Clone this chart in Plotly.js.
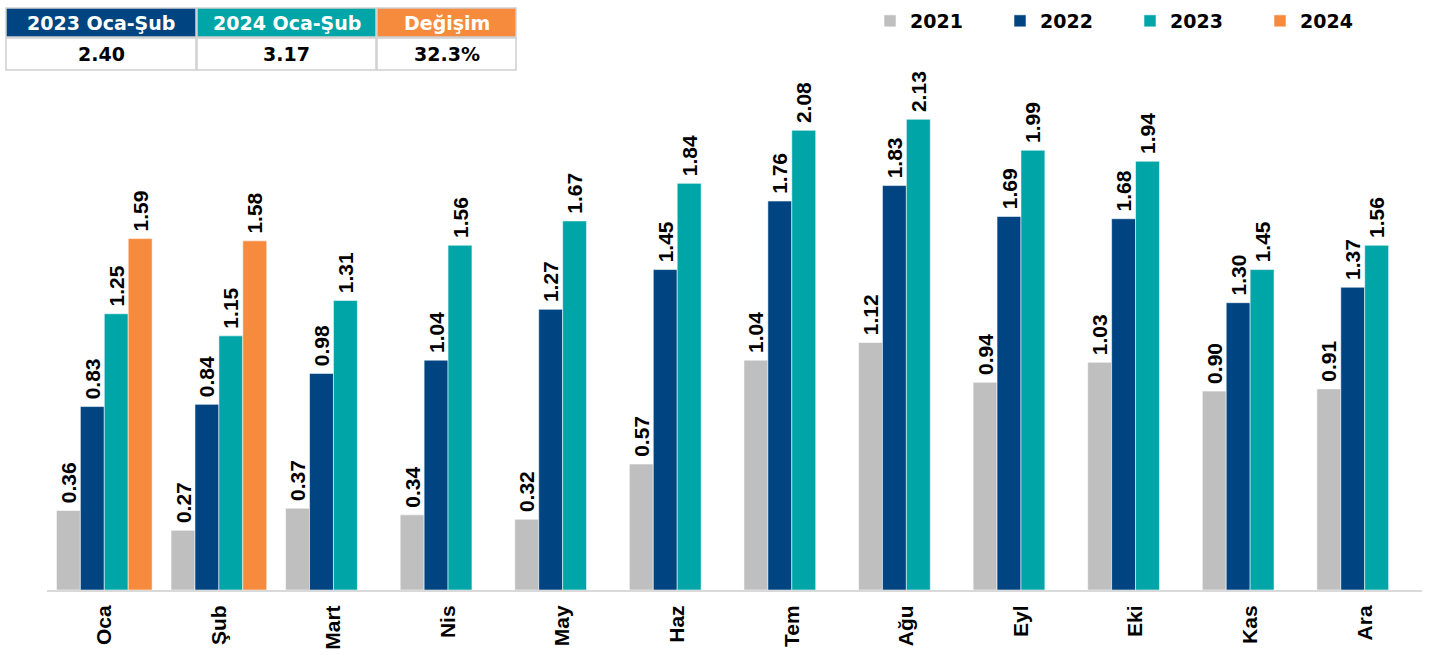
<!DOCTYPE html>
<html>
<head>
<meta charset="utf-8">
<script src="https://cdn.plot.ly/plotly-3.0.1.min.js"></script>
<style>html,body{margin:0;padding:0;background:#fff;}#chart{width:1432px;height:655px;}</style>
</head>
<body>
<div id="chart"></div>
<script>
// ---- data ----
const months = ["Oca","Şub","Mart","Nis","May","Haz","Tem","Ağu","Eyl","Eki","Kas","Ara"];
const seriesNames = ["2021","2022","2023","2024"];
const v2021 = [0.36,0.27,0.37,0.34,0.32,0.57,1.04,1.12,0.94,1.03,0.90,0.91];
const v2022 = [0.83,0.84,0.98,1.04,1.27,1.45,1.76,1.83,1.69,1.68,1.30,1.37];
const v2023 = [1.25,1.15,1.31,1.56,1.67,1.84,2.08,2.13,1.99,1.94,1.45,1.56];
const v2024 = [1.59,1.58,null,null,null,null,null,null,null,null,null,null];
const tableHeaders = ["2023 Oca-Şub","2024 Oca-Şub","Değişim"];
const tableValues = ["2.40","3.17","32.3%"];

// ---- styling ----
const colors = ["#BFBFBF","#004481","#00A5A8","#F68B3D"];
const W = 1432, H = 655;
const ml = 47, mr = 10, mt = 15, mb = 65;
const pw = W - ml - mr, ph = H - mt - mb;
const yMax = ph / 221;
const px = x => (x - ml) / pw;
const py = y => (H - mb - y) / ph;

const labelFont = {family: "Liberation Sans, Arial, sans-serif", size: 21, color: "#000", weight: "bold"};
const values = [v2021, v2022, v2023, v2024];
const traces = values.map((vals, i) => ({
  type: "bar",
  name: seriesNames[i],
  x: months,
  y: vals,
  marker: {color: colors[i], line: {color: "rgba(255,255,255,0.55)", width: 1}},
  texttemplate: "\u2009%{y:.2f}",
  textposition: "outside",
  textangle: -90,
  textfont: labelFont,
  constraintext: "none",
  cliponaxis: false,
  hoverinfo: "x+y+name"
}));

// ---- table (shapes + annotations) ----
const colX = [[6,196],[197,376],[377,516]];
const headY = [8,37], dataY = [38,70];
const headFill = [colors[1], colors[2], colors[3]];
const shapes = [];
const annotations = [];
colX.forEach((c, i) => {
  shapes.push({type:"rect", xref:"paper", yref:"paper", x0:px(c[0]), x1:px(c[1]), y0:py(headY[1]), y1:py(headY[0]),
    fillcolor: headFill[i], line:{color:"#D0D0D0", width:1.5}, layer:"above"});
  shapes.push({type:"rect", xref:"paper", yref:"paper", x0:px(c[0]), x1:px(c[1]), y0:py(dataY[1]), y1:py(dataY[0]),
    fillcolor: "#FFFFFF", line:{color:"#D0D0D0", width:1.5}, layer:"above"});
  annotations.push({xref:"paper", yref:"paper", x:px((c[0]+c[1])/2), y:py((headY[0]+headY[1])/2),
    text: tableHeaders[i], showarrow:false, xanchor:"center", yanchor:"middle",
    font:{family:"DejaVu Sans, sans-serif", size:19, color:"#fff", weight:"bold"}});
  annotations.push({xref:"paper", yref:"paper", x:px((c[0]+c[1])/2), y:py((dataY[0]+dataY[1])/2),
    text: tableValues[i], showarrow:false, xanchor:"center", yanchor:"middle",
    font:{family:"DejaVu Sans, sans-serif", size:19, color:"#000", weight:"bold"}});
});

const layout = {
  width: W, height: H,
  margin: {l: ml, r: mr, t: mt, b: mb, autoexpand: false},
  paper_bgcolor: "#fff", plot_bgcolor: "#fff",
  barmode: "group", bargap: 0.165, bargroupgap: 0,
  showlegend: true,
  legend: {orientation: "h", x: px(870), y: py(2), xanchor: "left", yanchor: "top",
    entrywidth: 85, entrywidthmode: "pixels", itemwidth: 30,
    font: {family: "DejaVu Sans, sans-serif", size: 19, color: "#000", weight: "bold"},
    bgcolor: "rgba(0,0,0,0)", traceorder: "normal"},
  xaxis: {type: "category", showline: true, linecolor: "#D9D9D9", linewidth: 2,
    tickangle: -90, ticks: "", ticklabelstandoff: 5, showgrid: false, zeroline: false, fixedrange: true,
    tickfont: {family: "Liberation Sans, Arial, sans-serif", size: 21, color: "#000", weight: "bold"}},
  yaxis: {range: [0, yMax], visible: false, showgrid: false, zeroline: false, fixedrange: true},
  shapes: shapes,
  annotations: annotations
};

Plotly.newPlot("chart", traces, layout, {displayModeBar: false, staticPlot: true});
</script>
</body>
</html>
